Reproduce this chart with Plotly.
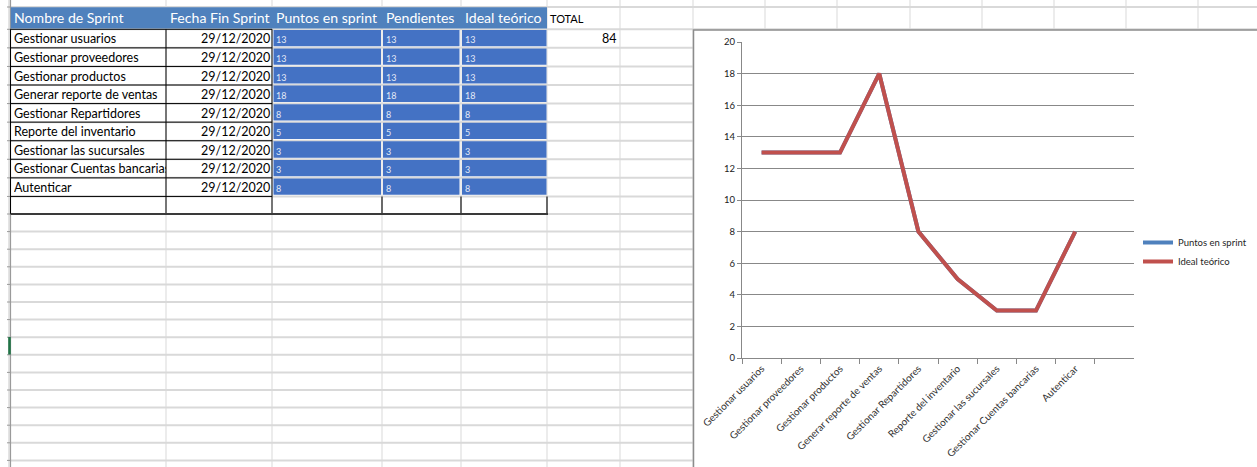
import plotly.graph_objects as go

# ---- data -------------------------------------------------------------
sprints = [
    "Gestionar usuarios", "Gestionar proveedores", "Gestionar productos",
    "Generar reporte de ventas", "Gestionar Repartidores", "Reporte del inventario",
    "Gestionar las sucursales", "Gestionar Cuentas bancarias", "Autenticar",
]
fecha_fin = ["29/12/2020"] * 9
puntos_sprint = [13, 13, 13, 18, 8, 5, 3, 3, 8]
pendientes = [13, 13, 13, 18, 8, 5, 3, 3, 8]
ideal_teorico = [13, 13, 13, 18, 8, 5, 3, 3, 8]
headers = ["Nombre de Sprint", "Fecha Fin Sprint", "Puntos en sprint", "Pendientes", "Ideal teórico"]
total_label = "TOTAL"
total_puntos = sum(puntos_sprint)
y_ticks = list(range(0, 21, 2))

# ---- sheet geometry (pixels) -----------------------------------------
W, H = 1257, 467
col_edges = [10, 166, 272, 382, 461, 547, 620, 693, 765, 837, 910, 982, 1054, 1126, 1198]
table_rows = [7.0] + [29.3 + 18.57 * i for i in range(11)]
table_rows[-1] = 214.0
lower_rows = [214.0 + 17.6 * i for i in range(1, 15)]
row_edges = table_rows + [r for r in lower_rows if r < H]

FONT = "Lato"
GRID = "#D9D9D9"
HEAD_BLUE = "#4F81BD"
CELL_BLUE = "#4472C4"


def fx(x):
    return x / W


def fy(y):
    return 1 - y / H


shapes = []


def rect(x0, y0, x1, y1, fill, line_color="rgba(0,0,0,0)", lw=0):
    shapes.append(dict(type="rect", xref="paper", yref="paper", layer="below",
                       x0=fx(x0), x1=fx(x1), y0=fy(y0), y1=fy(y1),
                       fillcolor=fill, line=dict(color=line_color, width=lw)))


def seg(x0, y0, x1, y1, color, w=1):
    shapes.append(dict(type="line", xref="paper", yref="paper", layer="below",
                       x0=fx(x0), x1=fx(x1), y0=fy(y0), y1=fy(y1),
                       line=dict(color=color, width=w)))


# light worksheet grid
for cx in col_edges[1:]:
    seg(cx, 0, cx, H, GRID, 1)
for ry in row_edges:
    seg(10, ry, W, ry, GRID, 2)

# left row-header edge
seg(9, 0, 9, H, "#E4E4E4", 2)
seg(10.5, 0, 10.5, H, "#9A9A9A", 1.2)
for ry in row_edges:
    seg(7, ry, 10, ry, "#9A9A9A", 1)
rect(8.2, 337, 10.8, 354.5, "#217346")

# header row
rect(10.8, 7.3, 547, 28.4, HEAD_BLUE)

# black borders for name/date columns
for ry in table_rows[1:-1]:
    seg(10.5, ry, 272, ry, "#000000", 1)
for cx in (10.5, 166, 272):
    seg(cx, table_rows[1], cx, 214, "#000000", 1)
for cx in (382, 461, 547):
    seg(cx, table_rows[-2], cx, 214, "#333333", 1.4)
seg(10.5, 214, 548, 214, "#3A3A3A", 2)

# blue value cells
value_cols = [(273.5, 381.0), (383.0, 459.5), (462.0, 546.5)]
for i in range(len(sprints)):
    top, bot = table_rows[1 + i], table_rows[2 + i]
    for (c0, c1) in value_cols:
        rect(c0, top + 0.6, c1, bot - 1.6, CELL_BLUE)

# chart frame
rect(693.5, 30, W + 5, H + 5, "#FFFFFF", "#8C8C8C", 1.5)

# ---- text in the sheet -----------------------------------------------
annotations = []


def text(x, y, s, size, color, anchor="left", width=None):
    a = dict(x=fx(x), y=fy(y), xref="paper", yref="paper", text=s, showarrow=False,
             xanchor=anchor, yanchor="middle", align=anchor,
             font=dict(family=FONT, size=size, color=color), borderpad=0)
    if width is not None:
        a["width"] = width
    annotations.append(a)


header_x = [13, 169, 275, 384.5, 463.5]
for hx, h in zip(header_x, headers):
    text(hx, 18, h, 14.1, "#FFFFFF")
text(549, 18.5, total_label, 11, "#000000")

for i, name in enumerate(sprints):
    cy = (table_rows[1 + i] + table_rows[2 + i]) / 2 + 0.3
    text(13, cy, name, 12.5, "#000000", width=152)
    text(270.5, cy, fecha_fin[i], 12.5, "#000000", anchor="right")
    text(275, cy + 1, str(puntos_sprint[i]), 9, "#E3EAF7")
    text(384.5, cy + 1, str(pendientes[i]), 9, "#E3EAF7")
    text(463.5, cy + 1, str(ideal_teorico[i]), 9, "#E3EAF7")
text(617.5, (table_rows[1] + table_rows[2]) / 2 + 0.3, str(total_puntos), 12.5, "#000000", anchor="right")

# ---- chart -----------------------------------------------------------
fig = go.Figure()
fig.add_trace(go.Scatter(x=sprints, y=puntos_sprint, name="Puntos en sprint", mode="lines",
                         line=dict(color="#4F81BD", width=4)))
fig.add_trace(go.Scatter(x=sprints, y=ideal_teorico, name="Ideal teórico", mode="lines",
                         line=dict(color="#C0504D", width=4)))

AX = "#888888"
fig.update_layout(
    width=W, height=H, autosize=False,
    margin=dict(l=0, r=0, t=0, b=0, autoexpand=False),
    paper_bgcolor="#FFFFFF", plot_bgcolor="rgba(0,0,0,0)",
    hovermode=False,
    shapes=shapes, annotations=annotations,
    xaxis=dict(domain=[fx(742), fx(1134)], type="category",
               categoryorder="array", categoryarray=sprints + [" "],
               range=[-0.5, 9.5], tickmode="linear", tick0=0, dtick=1,
               tickson="boundaries", ticks="outside", ticklen=5, tickcolor=AX, tickwidth=1,
               showline=True, linecolor=AX, linewidth=1, showgrid=False,
               tickangle=-45, tickfont=dict(family=FONT, size=10, color="#333333"),
               fixedrange=True),
    yaxis=dict(domain=[fy(358), fy(42)], range=[0, 20], tickvals=y_ticks,
               showgrid=True, gridcolor=AX, gridwidth=1, zeroline=False,
               showline=True, linecolor=AX, linewidth=1,
               ticks="outside", ticklen=4, tickcolor=AX,
               tickfont=dict(family=FONT, size=9.5, color="#1A1A1A"),
               fixedrange=True),
    legend=dict(x=fx(1138), y=fy(228), xanchor="left", yanchor="top",
                bgcolor="rgba(0,0,0,0)", borderwidth=0,
                font=dict(family=FONT, size=9.5, color="#262626"),
                itemwidth=30, tracegroupgap=0),
    showlegend=True,
)

fig.write_html("out.html", config={"displayModeBar": False})
